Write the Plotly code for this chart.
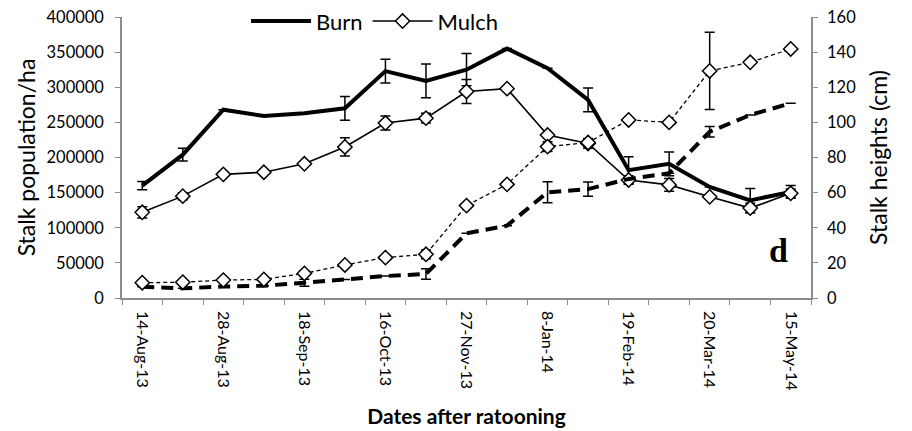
import plotly.graph_objects as go

# Sampling dates after ratooning (every other date is labelled on the axis)
n_dates = 17
tick_labels = ["14-Aug-13", "28-Aug-13", "18-Sep-13", "16-Oct-13", "27-Nov-13",
               "8-Jan-14", "19-Feb-14", "20-Mar-14", "15-May-14"]
x_idx = list(range(n_dates))
tick_idx = list(range(0, n_dates, 2))

# Stalk population (stalks/ha)
burn_pop = [160000, 204000, 268000, 259000, 263000, 270000, 323000, 309000, 325000,
            355000, 327000, 282000, 182000, 191000, 158000, 139000, 151000]
burn_pop_err = [6000, 9000, 0, 0, 0, 17000, 17000, 24000, 23000,
                0, 0, 17000, 19000, 17000, 0, 17000, 9000]
mulch_pop = [122000, 145000, 176000, 179000, 191000, 215000, 249000, 256000, 294000,
             298000, 232000, 220000, 168000, 161000, 144000, 128000, 149000]
mulch_pop_err = [8000, 5000, 0, 0, 0, 13000, 10000, 7000, 17000,
                 0, 0, 7000, 6000, 9000, 0, 7000, 6000]

# Stalk heights (cm)
burn_ht = [6.4, 5.5, 6.5, 7.0, 8.7, 10.6, 12.5, 13.7, 36.8,
           41.2, 60.2, 62.0, 67.8, 71.0, 94.7, 104.2, 110.9]
burn_ht_err = [0, 0, 0, 0, 2.0, 0, 0, 3.0, 0,
               0, 6.0, 4.0, 0, 0, 3.0, 0, 0]
mulch_ht = [8.7, 9.0, 10.2, 10.6, 14.0, 18.8, 23.0, 24.9, 52.6,
            64.7, 86.2, 88.5, 101.4, 100.0, 129.3, 134.2, 141.8]
mulch_ht_err = [1.0, 1.0, 0, 0, 1.5, 0, 0, 2.5, 0,
                0, 2.8, 2.0, 0, 0, 22.0, 0, 0]

FONT = "Lato"
AXIS_GREY = "#8c8c8c"


def err(vals):
    return dict(type="data", array=vals, visible=True, color="black",
                thickness=1.5, width=5)


diamond = dict(symbol="diamond", size=11, color="white",
               line=dict(color="black", width=1.5))

fig = go.Figure()

fig.add_trace(go.Scatter(
    x=x_idx, y=burn_pop, name="Burn", mode="lines",
    line=dict(color="black", width=4), error_y=err(burn_pop_err)))
fig.add_trace(go.Scatter(
    x=x_idx, y=mulch_pop, name="Mulch", mode="lines+markers",
    line=dict(color="black", width=1.6), marker=diamond,
    error_y=err(mulch_pop_err)))
fig.add_trace(go.Scatter(
    x=x_idx, y=burn_ht, name="Burn height", mode="lines", yaxis="y2",
    showlegend=False,
    line=dict(color="black", width=4, dash="12px,7px"),
    error_y=err(burn_ht_err)))
fig.add_trace(go.Scatter(
    x=x_idx, y=mulch_ht, name="Mulch height", mode="lines+markers", yaxis="y2",
    showlegend=False,
    line=dict(color="black", width=1.3, dash="4px,3px"), marker=diamond,
    error_y=err(mulch_ht_err)))

fig.add_annotation(
    text="<b>d</b>", xref="paper", yref="paper", x=0.97, y=0.095,
    showarrow=False, font=dict(family="Liberation Serif", size=34, color="black"))

fig.update_layout(
    width=912, height=431,
    margin=dict(l=122, r=101, t=17, b=133, autoexpand=False),
    paper_bgcolor="white", plot_bgcolor="white",
    font=dict(family=FONT, color="black"),
    showlegend=True,
    legend=dict(orientation="h", x=0.18, y=0.985, xanchor="left", yanchor="middle",
                font=dict(size=22, family=FONT), bgcolor="rgba(0,0,0,0)",
                itemwidth=60, tracegroupgap=0),
    xaxis=dict(
        range=[-0.5, n_dates - 0.5], tickmode="array", tickvals=tick_idx,
        ticktext=tick_labels, tickangle=90, ticks="", showgrid=False,
        zeroline=False, showline=True, linecolor=AXIS_GREY, linewidth=1.5,
        tickfont=dict(size=16, family=FONT), ticklabelstandoff=8,
        minor=dict(tickmode="linear", tick0=-0.5, dtick=1, ticks="outside",
                   ticklen=5, tickcolor=AXIS_GREY, tickwidth=1.2),
        title=dict(text="<b>Dates after ratooning</b>",
                   font=dict(size=21, family=FONT), standoff=20),
    ),
    yaxis=dict(
        range=[0, 400000], dtick=50000, tickformat="d", ticks="outside", ticklen=5,
        tickcolor=AXIS_GREY, showgrid=False, zeroline=False, showline=True,
        linecolor=AXIS_GREY, linewidth=1.5, tickfont=dict(size=16.5, family=FONT),
        ticklabelstandoff=8,
        title=dict(text="Stalk population/ha", font=dict(size=23, family=FONT),
                   standoff=4),
    ),
    yaxis2=dict(
        range=[0, 160], dtick=20, overlaying="y", side="right", ticks="outside",
        ticklen=5, tickcolor=AXIS_GREY, showgrid=False, zeroline=False,
        showline=True, linecolor=AXIS_GREY, linewidth=1.5,
        tickfont=dict(size=16.5, family=FONT), ticklabelstandoff=6,
        title=dict(text="Stalk heights (cm)", font=dict(size=23, family=FONT),
                   standoff=16),
    ),
)

fig.write_html("out.html")
